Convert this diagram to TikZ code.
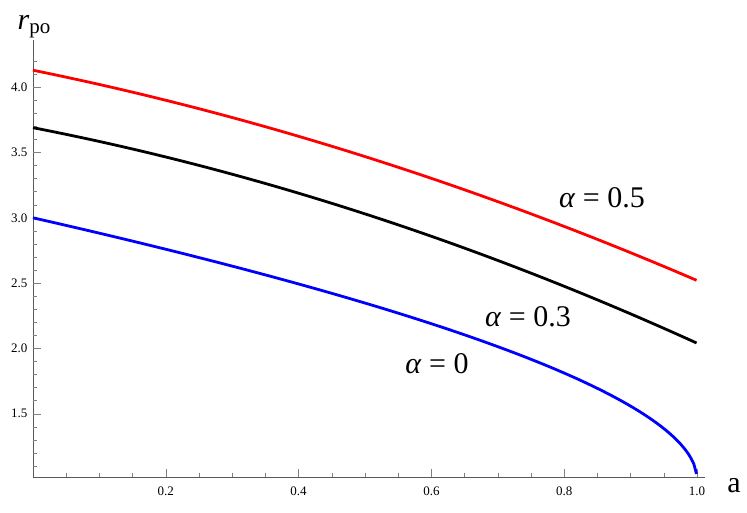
\documentclass[tikz,border=0pt]{standalone}
\usepackage{fontspec}
\setmainfont{Liberation Serif}
\begin{document}
\begin{tikzpicture}[x=1pt,y=-1pt,
  declare function={X(\a)=33+664*\a; Y(\r)=479-130.6*(\r-1);},
  curve/.style={line width=2.8pt},
  lab/.style={font=\fontsize{30}{30}\selectfont},
  tick/.style={font=\fontsize{13}{13}\selectfont}]
\useasboundingbox (0,0) rectangle (747,512);
\draw[gray!70!black] (33,477) -- (705,477);
\draw[gray!70!black] (33,477) -- (33,40);
\foreach \i in {1,...,20} \draw[gray] ({X(\i*0.05)},477) -- ({X(\i*0.05)},473);
\foreach \v in {0.2,0.4,0.6,0.8,1.0} {
  \draw[gray] ({X(\v)},477) -- ({X(\v)},469);
  \node[tick,anchor=north] at ({X(\v)},483) {\v};}
\foreach \i in {1,...,32} \draw[gray] (33,{Y(1+\i*0.1)}) -- (37,{Y(1+\i*0.1)});
\foreach \v in {1.5,2.0,2.5,3.0,3.5,4.0} {
  \draw[gray] (33,{Y(\v)}) -- (41,{Y(\v)});
  \node[tick,anchor=east] at (31,{Y(\v)}) {\v};}
\draw[curve,red] plot[domain=0:1,samples=60,variable=\a] ({X(\a)},{Y(4.13-1.035*\a-0.575*\a^2)});
\draw[curve,black] plot[domain=0:1,samples=60,variable=\a] ({X(\a)},{Y(3.69-0.99*\a-0.66*\a^2)});
\draw[curve,blue] plot[domain=0:1,samples=250,variable=\a] ({X(\a)},{Y(2*(1+cos(2/3*acos(-\a))))});
\node[font=\fontsize{30}{30}\selectfont] (ry) at (34,27) {\textit{r}\raisebox{-4pt}{\fontsize{21}{21}\selectfont po}};
\node[lab] (ax) at (734,486) {a};
\node[lab] (l5) at (602,198) {\textit{α} = 0.5};
\node[lab] (l3) at (528,317) {\textit{α} = 0.3};
\node[lab] (l0) at (437,364) {\textit{α} = 0};
\end{tikzpicture}
\end{document}
